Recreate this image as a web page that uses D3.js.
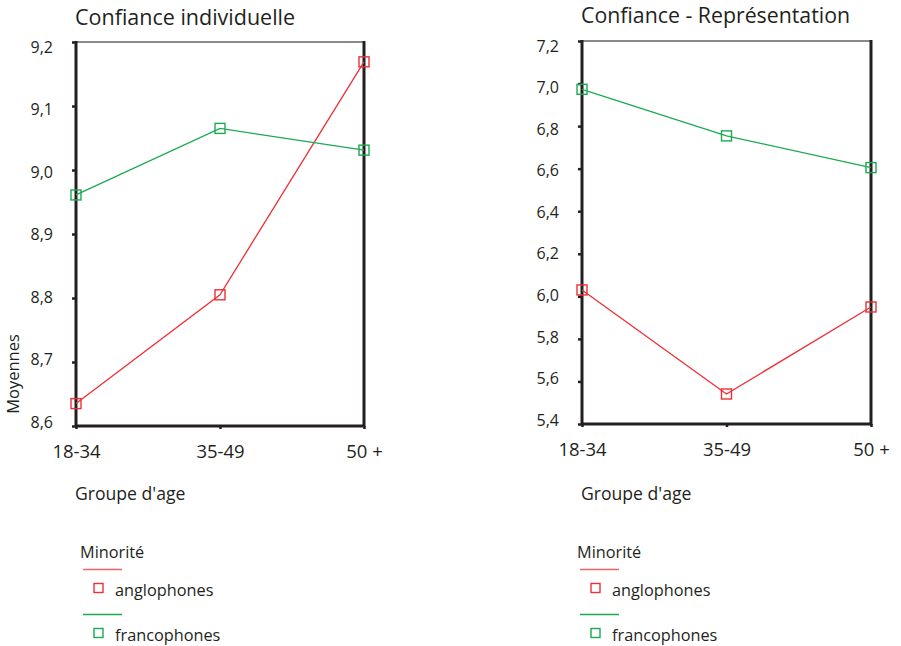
<!DOCTYPE html>
<html><head><meta charset="utf-8">
<script src="https://cdn.jsdelivr.net/npm/d3@7"></script>
<style>body{margin:0;background:#fff}svg{display:block}text{font-family:"Open Sans",sans-serif;fill:#231f20}</style>
</head><body>
<script>
const categories = ["18-34", "35-49", "50 +"];
const seriesNames = ["anglophones", "francophones"];
const leftAnglo = [8.635, 8.805, 9.169];
const leftFranco = [8.961, 9.065, 9.031];
const rightAnglo = [6.030, 5.541, 5.950];
const rightFranco = [6.973, 6.754, 6.605];
const leftTicks = [8.6, 8.7, 8.8, 8.9, 9.0, 9.1, 9.2];
const rightTicks = [5.4, 5.6, 5.8, 6.0, 6.2, 6.4, 6.6, 6.8, 7.0, 7.2];
const titles = ["Confiance individuelle", "Confiance - Représentation"];
const xTitle = "Groupe d'age";
const yTitle = "Moyennes";
const legendTitle = "Minorité";
const colors = ["#ee2f36", "#1aaa52"];

const W = 901, H = 646;
const svg = d3.select("body").append("svg").attr("width", W).attr("height", H);

const panels = [
  {x0: 76, x1: 364, y0: 42, y1: 426, domain: [8.6, 9.2], ticks: leftTicks, fmt: d => d.toFixed(1).replace(".", ","), series: [leftAnglo, leftFranco], title: titles[0], tsize: 21.5, ylab: true, legX: 80},
  {x0: 582, x1: 871, y0: 41, y1: 424, domain: [5.4, 7.2], ticks: rightTicks, fmt: d => d.toFixed(1).replace(".", ","), series: [rightAnglo, rightFranco], title: titles[1], tsize: 21.3, ylab: false, legX: 577}
];

panels.forEach((p, pi) => {
  const g = svg.append("g");
  const x = d3.scalePoint().domain(categories).range([p.x0, p.x1]);
  const y = d3.scaleLinear().domain(p.domain).range([p.y1, p.y0]);

  // title
  g.append("text").attr("x", p.x0 - 1).attr("y", pi === 0 ? 25 : 23).attr("font-size", p.tsize).text(p.title);

  // frame: top gray
  g.append("line").attr("x1", p.x0).attr("x2", p.x1).attr("y1", p.y0).attr("y2", p.y0)
    .attr("stroke", "#8a8a8c").attr("stroke-width", 2);
  // right
  g.append("line").attr("x1", p.x1).attr("x2", p.x1).attr("y1", p.y0 - 1).attr("y2", p.y1 + 1)
    .attr("stroke", "#231f20").attr("stroke-width", 3);

  // y axis
  const ya = d3.axisLeft(y).tickValues(p.ticks).tickFormat(p.fmt).tickSize(4).tickPadding(19);
  const yg = g.append("g").attr("transform", `translate(${p.x0},0)`).call(ya);
  yg.select(".domain").attr("stroke", "#231f20").attr("stroke-width", 3).attr("d", `M0,${p.y0 - 1}V${p.y1 + 1}`);
  yg.selectAll(".tick line").attr("stroke", "#231f20").attr("stroke-width", 2.5);
  const n = p.ticks.length;
  yg.selectAll(".tick text").attr("font-size", 16).attr("fill", "#231f20").style("font-family", '"Open Sans",sans-serif')
    .attr("y", (d, i) => -4 + 9 * (i / (n - 1)));

  // x axis
  const xa = d3.axisBottom(x).tickSize(3).tickPadding(16);
  const xg = g.append("g").attr("transform", `translate(0,${p.y1})`).call(xa);
  xg.select(".domain").attr("stroke", "#231f20").attr("stroke-width", 3).attr("d", `M${p.x0 - 1},0H${p.x1 + 1}`);
  xg.selectAll(".tick line").attr("stroke", "#231f20").attr("stroke-width", 2.5);
  xg.selectAll(".tick text").attr("font-size", 18.5).attr("fill", "#231f20").style("font-family", '"Open Sans",sans-serif');

  // axis titles
  g.append("text").attr("x", p.x0 - 1).attr("y", 500).attr("font-size", 17.6).text(xTitle);
  if (p.ylab) {
    g.append("text").attr("transform", `translate(19,374) rotate(-90)`).attr("text-anchor", "middle")
      .attr("font-size", 16.5).text(yTitle);
  }

  // lines and markers
  const line = d3.line().x((d, i) => x(categories[i])).y(d => y(d));
  p.series.forEach((s, k) => {
    g.append("path").datum(s).attr("d", line).attr("fill", "none").attr("stroke", colors[k]).attr("stroke-width", 1.3);
    g.selectAll(null).data(s).enter().append("rect")
      .attr("x", (d, i) => x(categories[i]) - 5).attr("y", d => y(d) - 5)
      .attr("width", 10).attr("height", 10)
      .attr("fill", "none").attr("stroke", colors[k]).attr("stroke-width", 1.4);
  });

  // legend
  const lg = g.append("g").attr("transform", `translate(${p.legX},0)`);
  lg.append("text").attr("x", 0).attr("y", 558).attr("font-size", 16.3).text(legendTitle);
  seriesNames.forEach((nm, k) => {
    const yy = 569.5 + k * 45;
    lg.append("line").attr("x1", 3).attr("x2", 42).attr("y1", yy).attr("y2", yy)
      .attr("stroke", colors[k]).attr("stroke-width", 1.3).attr("opacity", k === 0 ? 0.75 : 1);
    lg.append("rect").attr("x", 14).attr("y", yy + 14).attr("width", 9).attr("height", 9)
      .attr("fill", "none").attr("stroke", colors[k]).attr("stroke-width", 1.4);
    lg.append("text").attr("x", 35).attr("y", yy + 26).attr("font-size", 16.3).text(nm);
  });
});
</script>
</body></html>
